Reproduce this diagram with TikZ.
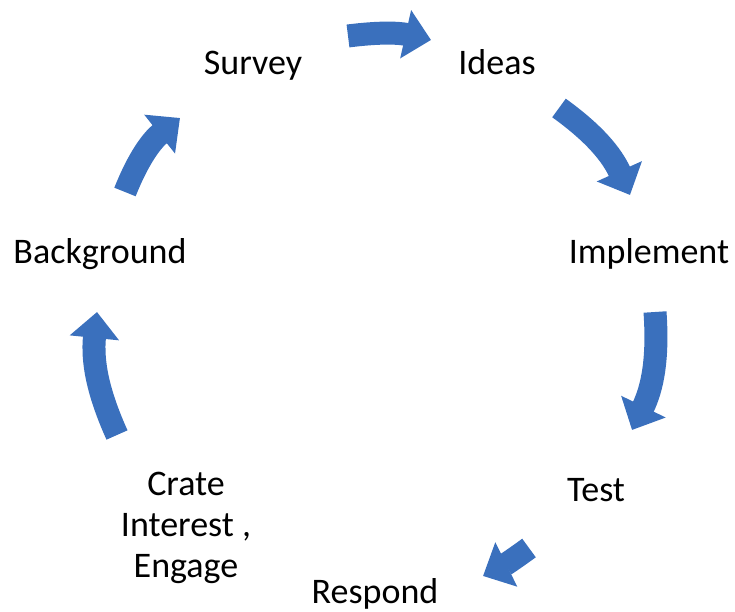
\documentclass[tikz,border=0pt]{standalone}
\usepackage{fontspec}
\setmainfont{Carlito}
\usetikzlibrary{arrows.meta}
\definecolor{arrblue}{HTML}{3A70BD}
\begin{document}
\begin{tikzpicture}[x=1pt,y=1pt,
  lbl/.style={font=\fontsize{36}{41}\selectfont, inner sep=0pt, anchor=base, align=center},
  bigarrow/.style={draw=arrblue, line width=23pt, -{Triangle[width=48pt,length=26pt]}}]
\useasboundingbox (0,0) rectangle (735,612);
% labels
\node[lbl] (survey) at (253,537) {Survey};
\node[lbl] (ideas) at (497,537) {Ideas};
\node[lbl] (implement) at (649,348) {Implement};
\node[lbl] (test) at (596,110) {Test};
\node[lbl] (respond) at (375,8) {Respond};
\node[lbl, anchor=north] (crate) at (186,140) {Crate\\Interest ,\\Engage};
\node[lbl] (background) at (100,348) {Background};
% arrow end points
\coordinate (a1) at (348,576); \coordinate (b1) at (431,572);
\coordinate (a2) at (559,504); \coordinate (b2) at (630,417);
\coordinate (a3) at (655,300); \coordinate (b3) at (632,182);
\coordinate (a4) at (529,64);  \coordinate (b4) at (483,36);
\coordinate (a5) at (117,177); \coordinate (b5) at (97,300);
\coordinate (a6) at (125,420); \coordinate (b6) at (180,494);
\draw[bigarrow] (a1) to[bend left=10] (b1);
\draw[bigarrow] (a2) to[bend left=15] (b2);
\draw[bigarrow] (a3) to[bend left=15] (b3);
\draw[bigarrow] (a4) to[bend left=5] (b4);
\draw[bigarrow] (a5) to[bend left=15] (b5);
\draw[bigarrow] (a6) to[bend left=15] (b6);
\end{tikzpicture}
\end{document}
